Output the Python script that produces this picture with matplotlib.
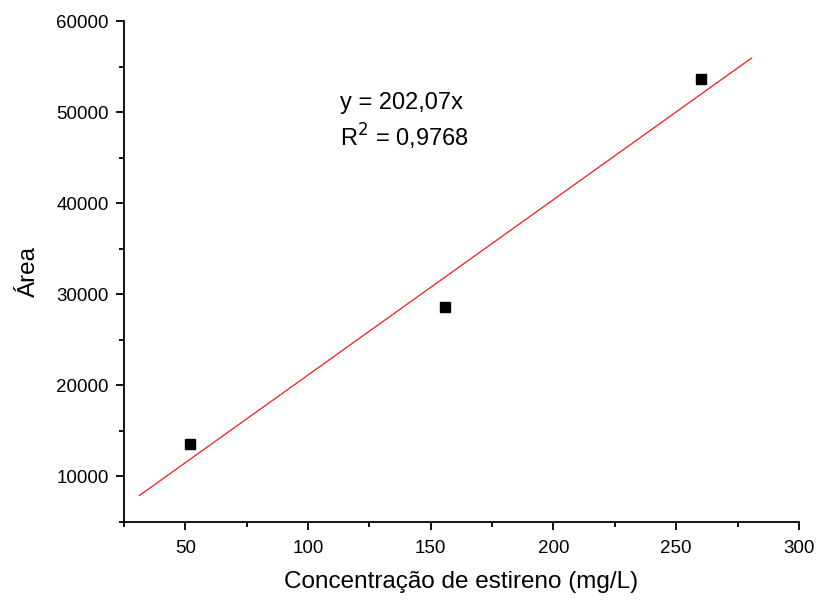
import numpy as np
import matplotlib.pyplot as plt
from matplotlib.ticker import MultipleLocator

plt.rcParams['font.family'] = ['Liberation Sans', 'DejaVu Sans']

# Dados da curva de calibração
concentracao = [52, 156, 260]       # mg/L
area = [13560, 28560, 53650]
equacao = "y = 202,07x"
r2_texto = "R$^2$ = 0,9768"

# Ajuste linear desenhado no gráfico
coef = np.polyfit(concentracao, area, 1)
margem = 0.1 * (max(concentracao) - min(concentracao))
x_fit = np.array([min(concentracao) - margem, max(concentracao) + margem])
y_fit = np.polyval(coef, x_fit)

fig = plt.figure(figsize=(8.18, 6), dpi=100)
ax = fig.add_axes([0.1516, 0.1305, 0.825, 0.834])

ax.plot(x_fit, y_fit, color='red', linewidth=0.8)
ax.plot(concentracao, area, 's', color='black', markersize=7.5)

ax.text(113, 51000, equacao, fontsize=17, va='center', ha='left')
ax.text(113, 47300, r2_texto, fontsize=17, va='center', ha='left')

ax.set_xlim(25, 300)
ax.set_ylim(5000, 60000)
ax.xaxis.set_major_locator(MultipleLocator(50))
ax.xaxis.set_minor_locator(MultipleLocator(25))
ax.yaxis.set_major_locator(MultipleLocator(10000))
ax.yaxis.set_minor_locator(MultipleLocator(5000))
ax.set_xticks([50, 100, 150, 200, 250, 300])
ax.set_yticks([10000, 20000, 30000, 40000, 50000, 60000])

for s in ['top', 'right']:
    ax.spines[s].set_visible(False)
for s in ['left', 'bottom']:
    ax.spines[s].set_linewidth(1.3)

ax.tick_params(which='major', direction='out', length=6, width=1.3, labelsize=13.5)
ax.tick_params(which='minor', direction='out', length=3.5, width=1.3)
ax.tick_params(axis='x', which='major', pad=7)
ax.tick_params(axis='y', which='major', pad=5)

ax.set_xlabel("Concentração de estireno (mg/L)", fontsize=17.5, labelpad=10)
ax.set_ylabel("Área", fontsize=17.5, labelpad=12)

fig.savefig('out.png', dpi=100)
